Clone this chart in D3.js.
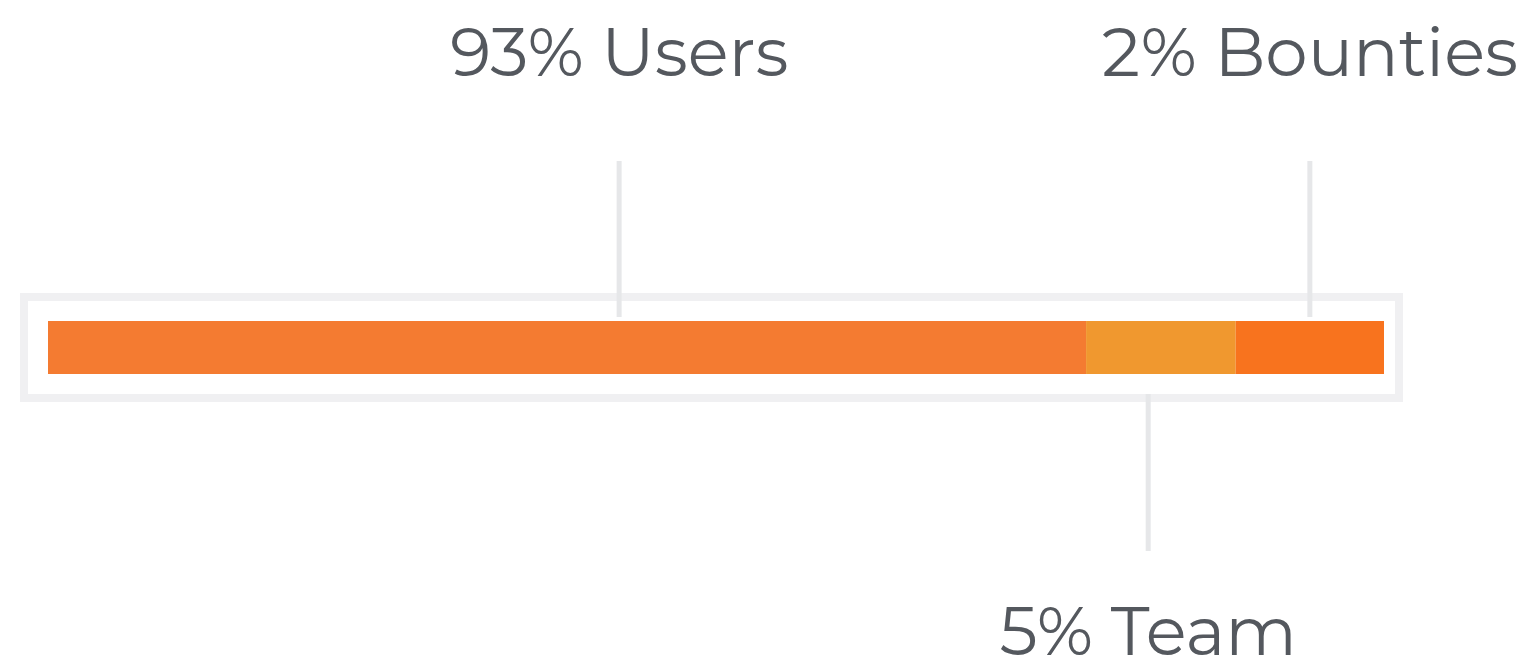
<!DOCTYPE html>
<html>
<head>
<meta charset="utf-8">
<script src="https://cdn.jsdelivr.net/npm/d3@7"></script>
<style>
  html, body { margin: 0; padding: 0; background: #ffffff; }
  svg { display: block; }
</style>
</head>
<body>
<div id="chart"></div>
<script>
// dades
const categories = ["Users", "Team", "Bounties"];
const percents = [93, 5, 2];
// longitud dibuixada de cada tram (no proporcional al %), llegida de la imatge
const segmentSizes = [77.7, 11.2, 11.1];
// on cau cada etiqueta sobre la barra (mateixes unitats)
const labelAt = [42.75, 82.35, 94.45];
// etiqueta a dalt o a baix
const labelSide = ["top", "bottom", "top"];
const colors = ["#f47b31", "#f0982f", "#f8731e"];

const W = 1526, H = 663;
const margin = {left: 48, right: 142, top: 321, bottom: 289};

const svg = d3.select("#chart")
  .append("svg")
    .attr("width", W)
    .attr("height", H);

// escala X
const total = d3.sum(segmentSizes);
const x = d3.scaleLinear()
  .domain([0, total])
  .range([margin.left, W - margin.right]);

const barTop = margin.top;
const barH = H - margin.top - margin.bottom;

// acumulats
let acc = 0;
const segs = categories.map((c, i) => {
  const s = {name: c, pct: percents[i], x0: acc, x1: acc + segmentSizes[i], color: colors[i],
             at: labelAt[i], side: labelSide[i]};
  acc += segmentSizes[i];
  return s;
});

// marc gris
svg.append("rect")
  .attr("x", x(0) - 24)
  .attr("y", barTop - 24)
  .attr("width", x(total) - x(0) + 39)
  .attr("height", barH + 48)
  .attr("fill", "none")
  .attr("stroke", "#f0f0f2")
  .attr("stroke-width", 8);

// barres
svg.selectAll(".tram")
  .data(segs)
  .enter()
  .append("rect")
    .attr("class", "tram")
    .attr("x", d => x(d.x0))
    .attr("y", barTop)
    .attr("width", d => x(d.x1) - x(d.x0))
    .attr("height", barH)
    .attr("fill", d => d.color);

// linies guia
svg.selectAll(".guia")
  .data(segs)
  .enter()
  .append("line")
    .attr("class", "guia")
    .attr("x1", d => x(d.at))
    .attr("x2", d => x(d.at))
    .attr("y1", d => d.side === "top" ? 161 : barTop + barH + 20)
    .attr("y2", d => d.side === "top" ? barTop - 4 : 551)
    .attr("stroke", "#e6e7e9")
    .attr("stroke-width", 5);

// etiquetes
svg.selectAll(".etiqueta")
  .data(segs)
  .enter()
  .append("text")
    .attr("class", "etiqueta")
    .attr("x", d => x(d.at))
    .attr("y", d => d.side === "top" ? 76 : 655)
    .attr("text-anchor", "middle")
    .style("font-family", "Montserrat, 'Noto Sans', sans-serif")
    .style("font-weight", 400)
    .style("font-size", "67.5px")
    .style("fill", "#54585e")
    .text(d => d.pct + "% " + d.name);
</script>
</body>
</html>
